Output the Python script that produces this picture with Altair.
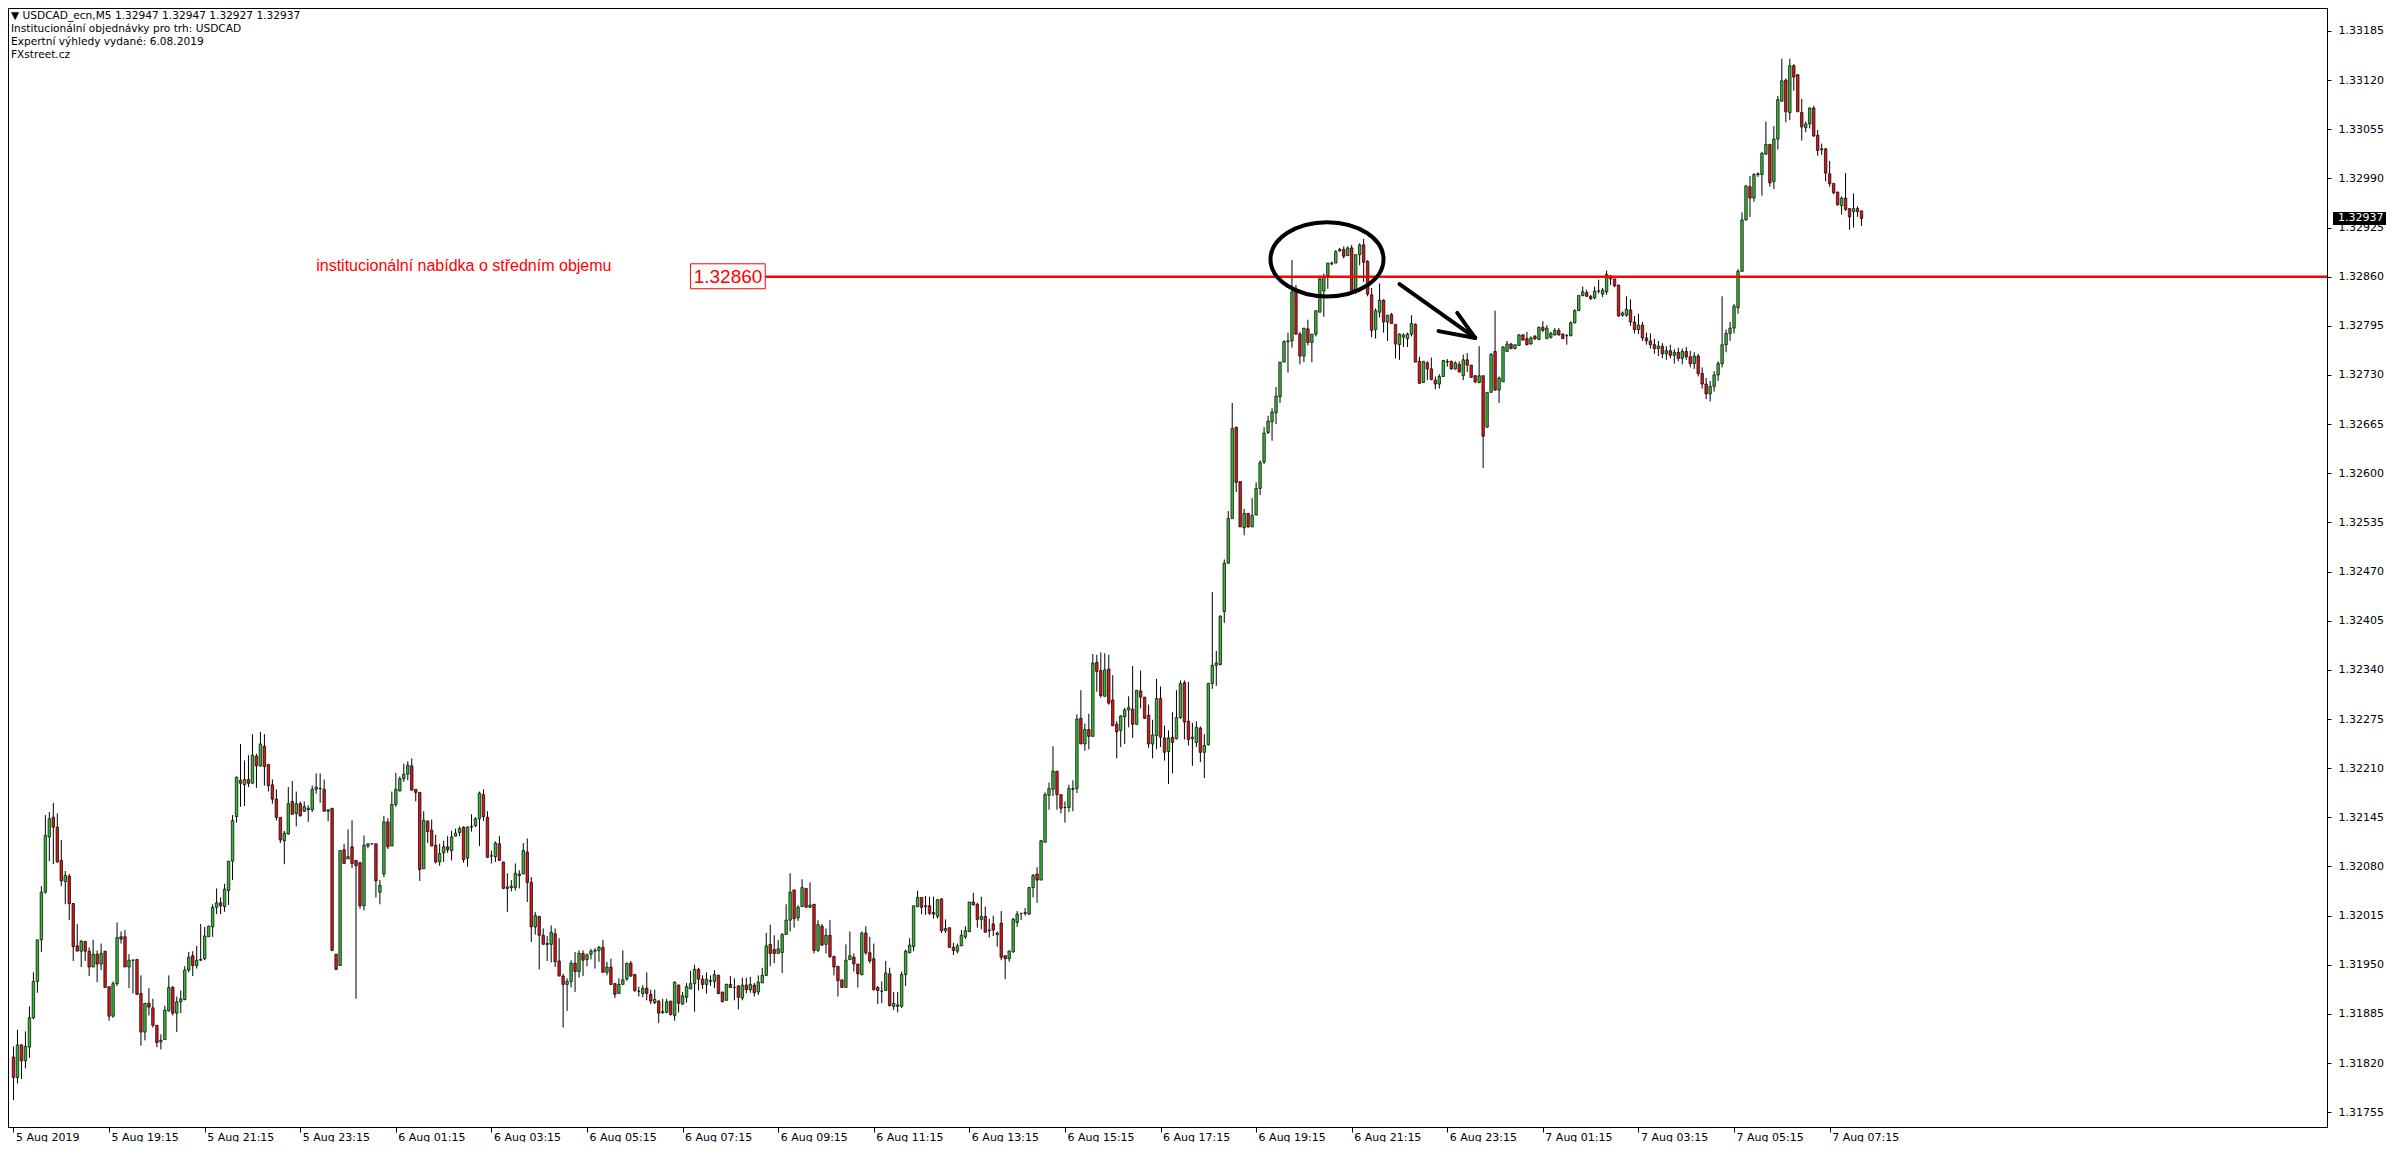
import altair as alt
import pandas as pd

# ---- USDCAD M5 candles, prices in points (1e-5) ----
open_pts = [
    131828,131801,131844,131823,131841,131880,131928,131983,132046,132119,
    132145,132132,132088,132060,132067,132031,131975,131968,131981,131968,
    131947,131964,131951,131968,131921,131882,131925,131987,131987,131947,
    131956,131957,131912,131861,131899,131893,131870,131848,131851,131889,
    131920,131886,131901,131904,131943,131962,131949,131956,131958,131987,
    132000,132026,132032,132027,132048,132087,132146,132194,132188,132195,
    132190,132226,132213,132239,132215,132188,132169,132145,132114,132123,
    132166,132150,132163,132153,132155,132155,132182,132183,132182,132153,
    132157,131964,131949,132102,132090,132106,132088,132085,132028,132107,
    132110,132110,132046,132070,132139,132107,132162,132180,132196,132202,
    132213,132182,132178,132077,132140,132128,132108,132086,132098,132106,
    132101,132120,132125,132132,132091,132132,132134,132143,132175,132145,
    132094,132093,132110,132086,132051,132052,132052,132068,132070,132099,
    132059,132000,132014,131989,131977,131977,131991,131955,131935,131924,
    131928,131952,131941,131965,131957,131964,131968,131969,131973,131940,
    131947,131925,131912,131924,131931,131952,131937,131915,131912,131919,
    131911,131900,131902,131887,131887,131902,131883,131923,131898,131907,
    131918,131925,131944,131931,131924,131928,131928,131936,131914,131903,
    131924,131920,131922,131906,131923,131917,131923,131914,131926,131936,
    131977,131970,131965,131966,131990,132009,132049,132012,132027,132051,
    132026,132030,131969,132001,131977,131989,131961,131948,131930,131920,
    131957,131960,131951,131937,131992,131966,131958,131920,131915,131916,
    131938,131895,131895,131895,131937,131966,131974,132027,132039,132027,
    132028,132019,132014,132037,131995,131999,131973,131968,131975,131987,
    131994,132033,132030,132010,132014,131995,132004,131990,132005,131962,
    131958,131967,132006,132018,132018,132017,132052,132070,132062,132112,
    132174,132182,132206,132175,132158,132158,132182,132183,132276,132242,
    132261,132252,132350,132339,132305,132341,132300,132268,132260,132278,
    132287,132288,132268,132312,132304,132280,132242,132253,132302,132250,
    132232,132251,132249,132277,132323,132272,132249,132244,132263,132231,
    132241,132322,132346,132347,132417,132481,132540,132661,132589,132528,
    132547,132529,132545,132580,132615,132654,132668,132680,132701,132747,
    132774,132775,132841,132784,132755,132791,132773,132784,132813,132841,
    132861,132877,132878,132894,132896,132888,132898,132842,132889,132902,
    132880,132836,132790,132813,132829,132800,132810,132797,132770,132780,
    132778,132784,132797,132748,132720,132746,132738,132723,132718,132728,
    132747,132748,132738,132744,132729,132750,132743,132729,132720,132729,
    132661,132707,132761,132710,132721,132761,132771,132765,132769,132783,
    132778,132771,132781,132777,132793,132778,132780,132783,132789,132784,
    132782,132782,132799,132815,132835,132839,132834,132832,132841,132837,
    132840,132861,132857,132849,132809,132809,132816,132800,132790,132796,
    132779,132775,132770,132765,132768,132758,132762,132756,132760,132752,
    132761,132754,132745,132755,132732,132718,132705,132715,132730,132745,
    132770,132785,132792,132819,132867,132935,132979,132964,132995,132995,
    133022,133035,132986,133042,133092,133120,133077,133139,133127,133077,
    133057,133062,133083,133047,133028,133029,132996,132983,132972,132954,
    132964,132950,132946,132950,132947,
]
high_pts = [
    131842,131864,131845,131862,131895,131940,131983,132054,132148,132152,
    132164,132150,132115,132074,132070,132031,132004,131983,131981,131973,
    131983,131969,131978,131968,131921,131928,132006,131994,131996,131964,
    131957,131957,131936,131899,131919,131905,131870,131858,131896,131936,
    131922,131908,131916,131948,131967,131968,131975,132004,132000,132002,
    132030,132051,132039,132057,132087,132148,132199,132242,132220,132227,
    132255,132229,132258,132255,132215,132195,132182,132145,132127,132185,
    132193,132179,132166,132166,132161,132187,132203,132203,132195,132155,
    132157,131964,132101,132110,132129,132141,132088,132086,132121,132110,
    132110,132110,132062,132147,132144,132179,132204,132199,132216,132219,
    132223,132182,132178,132153,132141,132142,132122,132110,132114,132120,
    132127,132130,132133,132133,132133,132149,132145,132179,132182,132153,
    132101,132113,132120,132086,132071,132062,132084,132075,132111,132117,
    132066,132020,132014,131998,131988,132002,131998,131985,131938,131932,
    131956,131967,131969,131969,131965,131971,131972,131975,131983,131954,
    131958,131926,131932,131969,131953,131955,131938,131921,131923,131940,
    131917,131917,131903,131905,131905,131902,131928,131924,131914,131926,
    131942,131950,131946,131936,131940,131936,131943,131937,131914,131925,
    131935,131932,131923,131933,131933,131934,131926,131936,131946,131992,
    132003,131989,131983,131992,132030,132071,132049,132029,132063,132051,
    132059,132030,132009,132004,131998,132009,131962,131948,131930,131977,
    131994,131965,131951,131994,132001,131987,131978,131922,131928,131955,
    131946,131914,131914,131941,131970,131985,132028,132048,132039,132041,
    132040,132040,132037,132038,132010,131999,131979,131978,131996,132001,
    132033,132045,132032,132040,132027,132011,132015,131994,132021,131962,
    131969,132012,132021,132018,132025,132053,132070,132079,132115,132178,
    132191,132239,132206,132175,132166,132188,132194,132281,132313,132269,
    132282,132361,132360,132363,132362,132360,132333,132272,132280,132290,
    132305,132345,132313,132339,132304,132294,132274,132328,132318,132266,
    132260,132284,132313,132326,132326,132324,132270,132272,132265,132255,
    132323,132443,132365,132412,132486,132550,132693,132661,132589,132553,
    132547,132567,132588,132617,132661,132676,132686,132714,132747,132776,
    132786,132882,132849,132787,132792,132803,132784,132815,132861,132864,
    132878,132880,132895,132898,132900,132900,132902,132889,132904,132910,
    132882,132845,132818,132851,132830,132809,132812,132797,132785,132785,
    132786,132809,132798,132754,132748,132748,132753,132728,132731,132750,
    132751,132749,132748,132748,132757,132759,132743,132730,132768,132729,
    132707,132759,132815,132728,132768,132775,132772,132770,132784,132784,
    132787,132781,132783,132794,132801,132796,132787,132792,132792,132785,
    132784,132801,132817,132835,132847,132843,132836,132847,132856,132845,
    132868,132862,132857,132849,132814,132834,132830,132808,132811,132800,
    132786,132785,132778,132775,132772,132768,132770,132764,132766,132765,
    132767,132762,132760,132758,132740,132726,132722,132735,132748,132834,
    132790,132800,132824,132870,132945,132981,132993,132997,132998,133025,
    133065,133035,133059,133099,133148,133122,133148,133141,133128,133095,
    133065,133084,133086,133054,133036,133030,133013,132984,132972,132966,
    132997,132950,132970,132953,132947,
]
low_pts = [
    131771,131793,131799,131813,131827,131878,131913,131967,132044,132087,
    132083,132085,132054,132030,132009,131955,131968,131947,131955,131935,
    131947,131927,131943,131920,131876,131880,131922,131978,131947,131919,
    131912,131910,131843,131850,131883,131867,131841,131838,131851,131888,
    131883,131861,131886,131903,131940,131935,131945,131955,131956,131987,
    131987,132017,132017,132020,132029,132062,132138,132159,132160,132185,
    132190,132184,132212,132187,132179,132163,132141,132111,132083,132122,
    132149,132133,132146,132152,132139,132152,132176,132164,132153,132140,
    131968,131943,131949,132084,132090,132078,131905,132024,132022,132104,
    132109,132039,132030,132066,132103,132107,132159,132179,132192,132194,
    132180,132166,132061,132077,132111,132107,132084,132081,132086,132098,
    132088,132120,132120,132085,132080,132126,132132,132107,132140,132092,
    132084,132086,132088,132050,132020,132047,132048,132051,132070,132033,
    131980,131990,131944,131977,131955,131953,131947,131935,131867,131889,
    131920,131914,131933,131935,131948,131957,131945,131954,131940,131936,
    131923,131906,131912,131924,131929,131934,131914,131908,131907,131903,
    131898,131898,131873,131885,131886,131883,131876,131887,131897,131900,
    131918,131888,131916,131918,131912,131922,131919,131911,131901,131902,
    131920,131903,131891,131903,131912,131913,131908,131910,131926,131935,
    131948,131952,131965,131939,131990,131994,131999,132008,132027,132026,
    132025,131965,131967,131975,131965,131959,131936,131908,131920,131920,
    131956,131941,131920,131936,131963,131952,131916,131898,131899,131916,
    131895,131890,131887,131893,131922,131965,131968,132026,132017,132016,
    132016,132011,132011,131992,131992,131973,131963,131965,131975,131984,
    131993,132029,131999,131997,131993,131986,131988,131974,131956,131931,
    131954,131966,132000,132009,132015,132016,132039,132032,132062,132112,
    132155,132173,132155,132150,132138,132152,132153,132177,132242,132233,
    132235,132252,132311,132303,132305,132294,132266,132223,132238,132242,
    132264,132250,132267,132289,132275,132237,132223,132235,132238,132220,
    132189,132203,132248,132275,132248,132240,132213,132238,132218,132197,
    132240,132315,132319,132346,132402,132481,132540,132575,132529,132518,
    132528,132529,132544,132571,132612,132652,132643,132665,132693,132747,
    132733,132766,132783,132744,132747,132769,132747,132781,132813,132807,
    132844,132875,132878,132893,132884,132887,132842,132837,132875,132853,
    132834,132780,132778,132806,132786,132775,132798,132752,132750,132767,
    132767,132781,132747,132718,132720,132723,132723,132711,132712,132728,
    132741,132737,132737,132733,132723,132734,132726,132719,132719,132607,
    132660,132707,132709,132693,132721,132761,132764,132764,132769,132776,
    132769,132770,132776,132776,132787,132778,132778,132782,132782,132778,
    132770,132781,132798,132815,132834,132834,132829,132830,132838,132833,
    132836,132849,132846,132807,132807,132807,132795,132785,132784,132775,
    132770,132765,132758,132755,132752,132750,132752,132745,132748,132744,
    132750,132740,132738,132728,132712,132698,132695,132708,132722,132740,
    132760,132775,132785,132811,132867,132934,132939,132959,132992,132967,
    133021,132979,132976,133028,133092,133064,133067,133106,133078,133040,
    133051,133056,133045,133020,133021,132986,132979,132969,132954,132942,
    132947,132922,132925,132939,132927,
]
close_pts = [
    131801,131844,131823,131842,131880,131928,131983,132046,132121,132143,
    132132,132086,132061,132068,132031,131974,131968,131981,131968,131947,
    131964,131951,131965,131920,131882,131925,131986,131984,131947,131956,
    131956,131911,131861,131899,131894,131870,131847,131850,131890,131920,
    131886,131901,131905,131943,131960,131949,131956,131957,131988,132001,
    132026,132032,132028,132050,132087,132141,132198,132190,132195,132190,
    132227,132213,132242,132212,132187,132169,132145,132115,132124,132163,
    132149,132163,132147,132159,132157,132182,132185,132183,132153,132155,
    131969,131944,132101,132084,132093,132084,132081,132028,132108,132110,
    132110,132061,132055,132139,132106,132162,132182,132196,132202,132214,
    132181,132178,132076,132141,132126,132107,132086,132097,132106,132102,
    132119,132124,132130,132089,132132,132133,132143,132177,132146,132092,
    132094,132111,132088,132051,132053,132054,132071,132070,132101,132059,
    132000,132015,131989,131977,131978,131993,131954,131935,131924,131928,
    131952,131941,131965,131956,131963,131968,131969,131973,131940,131947,
    131924,131911,131924,131930,131952,131935,131916,131915,131919,131912,
    131902,131904,131886,131888,131901,131884,131927,131899,131909,131921,
    131925,131944,131931,131924,131931,131929,131937,131912,131901,131924,
    131920,131920,131907,131923,131917,131924,131913,131927,131936,131975,
    131965,131965,131971,131990,132009,132046,132011,132026,132052,132026,
    132029,131969,132003,131976,131989,131961,131947,131929,131920,131956,
    131962,131951,131938,131992,131966,131955,131917,131916,131915,131939,
    131896,131899,131897,131937,131968,131976,132028,132039,132026,132028,
    132018,132017,132036,131995,131998,131973,131969,131975,131989,131995,
    132033,132029,132010,132014,131993,131996,131996,131992,131960,131958,
    131968,132010,132017,132018,132019,132052,132068,132062,132114,132175,
    132183,132206,132175,132157,132158,132183,132183,132275,132242,132261,
    132252,132349,132338,132306,132340,132296,132266,132258,132279,132287,
    132290,132268,132313,132304,132276,132242,132254,132302,132251,132231,
    132250,132244,132277,132322,132271,132248,132251,132264,132231,132240,
    132322,132346,132349,132411,132481,132540,132659,132588,132529,132547,
    132529,132544,132580,132614,132653,132669,132681,132702,132747,132774,
    132775,132840,132784,132755,132792,132773,132784,132815,132857,132859,
    132878,132878,132893,132896,132887,132898,132842,132889,132902,132879,
    132837,132789,132815,132829,132800,132809,132798,132771,132784,132783,
    132784,132798,132747,132719,132748,132738,132724,132718,132728,132749,
    132748,132738,132746,132734,132750,132743,132727,132721,132729,132649,
    132707,132757,132710,132726,132767,132771,132765,132770,132783,132776,
    132770,132779,132778,132793,132789,132792,132785,132789,132783,132778,
    132782,132799,132815,132835,132840,132834,132831,132841,132841,132842,
    132863,132857,132848,132808,132812,132817,132800,132790,132796,132779,
    132775,132770,132765,132768,132758,132762,132756,132760,132752,132761,
    132754,132745,132755,132732,132718,132705,132715,132730,132745,132770,
    132785,132792,132821,132867,132935,132980,132964,132995,132996,133023,
    133035,132984,133042,133094,133119,133078,133139,133124,133078,133058,
    133062,133083,133046,133027,133029,132997,132983,132971,132955,132964,
    132949,132939,132950,132946,132937,
]

# time-axis labels, one every 24 bars (2 hours of M5)
time_labels = [
    "5 Aug 2019", "5 Aug 19:15", "5 Aug 21:15", "5 Aug 23:15",
    "6 Aug 01:15", "6 Aug 03:15", "6 Aug 05:15", "6 Aug 07:15",
    "6 Aug 09:15", "6 Aug 11:15", "6 Aug 13:15", "6 Aug 15:15",
    "6 Aug 17:15", "6 Aug 19:15", "6 Aug 21:15", "6 Aug 23:15",
    "7 Aug 01:15", "7 Aug 03:15", "7 Aug 05:15", "7 Aug 07:15",
]
price_ticks = [
    1.31755, 1.31820, 1.31885, 1.31950, 1.32015, 1.32080, 1.32145, 1.32210,
    1.32275, 1.32340, 1.32405, 1.32470, 1.32535, 1.32600, 1.32665, 1.32730,
    1.32795, 1.32860, 1.32925, 1.32990, 1.33055, 1.33120, 1.33185,
]
header_lines = [
    "\u25bc  USDCAD_ecn,M5  1.32947 1.32947 1.32927 1.32937",
    "Institucionální objednávky pro trh: USDCAD",
    "Expertní výhledy vydané: 6.08.2019",
    "FXstreet.cz",
]
level_price = 1.32860
level_label = "1.32860"
level_text = "institucionální nabídka o středním objemu"
last_price = 1.32937
last_label = "1.32937"

GREEN = "#34b834"
RED = "#dc1616"

W, H = 2319, 1119
BAR_PX = 4
x_lo = -0.125
PX_PER_PRICE = 49.15 / 0.00065
y_top = 1.332153

df = pd.DataFrame({
    "i": list(range(len(close_pts))),
    "open": [v / 1e5 for v in open_pts],
    "high": [v / 1e5 for v in high_pts],
    "low": [v / 1e5 for v in low_pts],
    "close": [v / 1e5 for v in close_pts],
})
df["dir"] = ["up" if c >= o else "down" for o, c in zip(df["open"], df["close"])]

xs = alt.Scale(domain=[x_lo, x_lo + W / BAR_PX], nice=False, zero=False)
ys = alt.Scale(domain=[y_top - H / PX_PER_PRICE, y_top], nice=False, zero=False)

label_expr = "[" + ",".join("'%s'" % t for t in time_labels) + "][round(datum.value / 24)]"
x_axis = alt.Axis(
    values=[24 * k for k in range(len(time_labels))], labelExpr=label_expr,
    grid=False, title=None, tickSize=5, tickColor="black", domainColor="black",
    labelAlign="left", labelBaseline="top", labelPadding=-1, labelOffset=2,
    labelFlush=False, labelOverlap=False, labelFont="DejaVu Sans",
    labelFontSize=11, labelColor="black",
)
y_axis = alt.Axis(
    orient="right", values=price_ticks, format=".5f", grid=False, title=None,
    tickSize=4, tickColor="black", domainColor="black", labelPadding=7,
    labelFont="DejaVu Sans", labelFontSize=11, labelColor="black",
    labelOverlap=False, labelFlush=False,
)


def X(f):
    return alt.X(f, type="quantitative", scale=xs, axis=x_axis)


def Y(f):
    return alt.Y(f, type="quantitative", scale=ys, axis=y_axis)


wicks = alt.Chart(df).mark_rule(color="black", strokeWidth=1, clip=True).encode(
    x=X("i"), y=Y("low"), y2="high"
)
bodies = alt.Chart(df).mark_bar(width=2.5, stroke="black", strokeWidth=0.7, clip=True).encode(
    x=X("i"), y=Y("open"), y2="close",
    fill=alt.Fill("dir:N", scale=alt.Scale(domain=["up", "down"], range=[GREEN, RED]), legend=None),
)

# horizontal level line with its boxed label and description
level_df = pd.DataFrame({"x": [188.75], "p": [level_price]})
level_line = alt.Chart(level_df).mark_rule(color="#ff0000", strokeWidth=2.5).encode(
    x=X("x"), x2=alt.value(W), y=Y("p")
)
box_df = pd.DataFrame({"x": [170.0], "x2": [188.75], "top": [1.32877], "bot": [1.32844]})
level_box = alt.Chart(box_df).mark_rect(fill="white", stroke="#ff0000", strokeWidth=1).encode(
    x=X("x"), x2="x2", y=Y("top"), y2="bot"
)
box_text_df = pd.DataFrame({"x": [179.4], "p": [level_price], "t": [level_label]})
level_box_text = alt.Chart(box_text_df).mark_text(
    align="center", baseline="middle", color="#ff0000", font="Liberation Sans", fontSize=19
).encode(x=X("x"), y=Y("p"), text="t:N")
desc_df = pd.DataFrame({"x": [76.0], "p": [1.32874], "t": [level_text]})
desc_text = alt.Chart(desc_df).mark_text(
    align="left", baseline="middle", color="#ff0000", font="Liberation Sans", fontSize=16
).encode(x=X("x"), y=Y("p"), text="t:N")

# ellipse around the test of the level
ELLIPSE = ("M -1 0 C -1 -0.363 -0.552 -0.657 0 -0.657 C 0.552 -0.657 1 -0.363 1 0 "
           "C 1 0.363 0.552 0.657 0 0.657 C -0.552 0.657 -1 0.363 -1 0 Z")
ell_df = pd.DataFrame({"x": [329.8], "p": [1.32883]})
ellipse = alt.Chart(ell_df).mark_point(
    shape=ELLIPSE, size=113 * 113, filled=False, stroke="black", strokeWidth=4, opacity=1
).encode(x=X("x"), y=Y("p"))

# arrow
arrow_df = pd.DataFrame({
    "x": [348.0, 367.0, 367.0],
    "y": [1.32850, 1.32779, 1.32779],
    "x2": [367.0, 362.5, 357.8],
    "y2": [1.32779, 1.32812, 1.32788],
})
arrow = alt.Chart(arrow_df).mark_rule(color="black", strokeWidth=4, strokeCap="round").encode(
    x=X("x"), x2="x2", y=Y("y"), y2="y2"
)

# header text (top-left)
head_df = pd.DataFrame({"t": ["\n".join(header_lines)]})
header = alt.Chart(head_df).mark_text(
    align="left", baseline="top", lineBreak="\n", lineHeight=13,
    font="DejaVu Sans", fontSize=10.6, color="black"
).encode(x=alt.value(3), y=alt.value(3), text="t:N")

# current price marker on the price axis
last_df = pd.DataFrame({"p": [last_price], "t": [last_label]})
last_box = alt.Chart(last_df).mark_tick(
    orient="horizontal", thickness=13, size=53, color="black", opacity=1
).encode(x=alt.value(W + 32.5), y=Y("p"))
last_text = alt.Chart(last_df).mark_text(
    align="left", baseline="middle", color="white", font="DejaVu Sans", fontSize=11
).encode(x=alt.value(W + 11), y=Y("p"), text="t:N")

chart = alt.layer(
    wicks, bodies, level_line, level_box, level_box_text, desc_text,
    ellipse, arrow, header, last_box, last_text,
).properties(
    width=W, height=H, padding=0, background="white"
).configure_view(stroke="black", strokeWidth=1)

chart.save("out.html", embed_options={"renderer": "svg", "actions": False})
